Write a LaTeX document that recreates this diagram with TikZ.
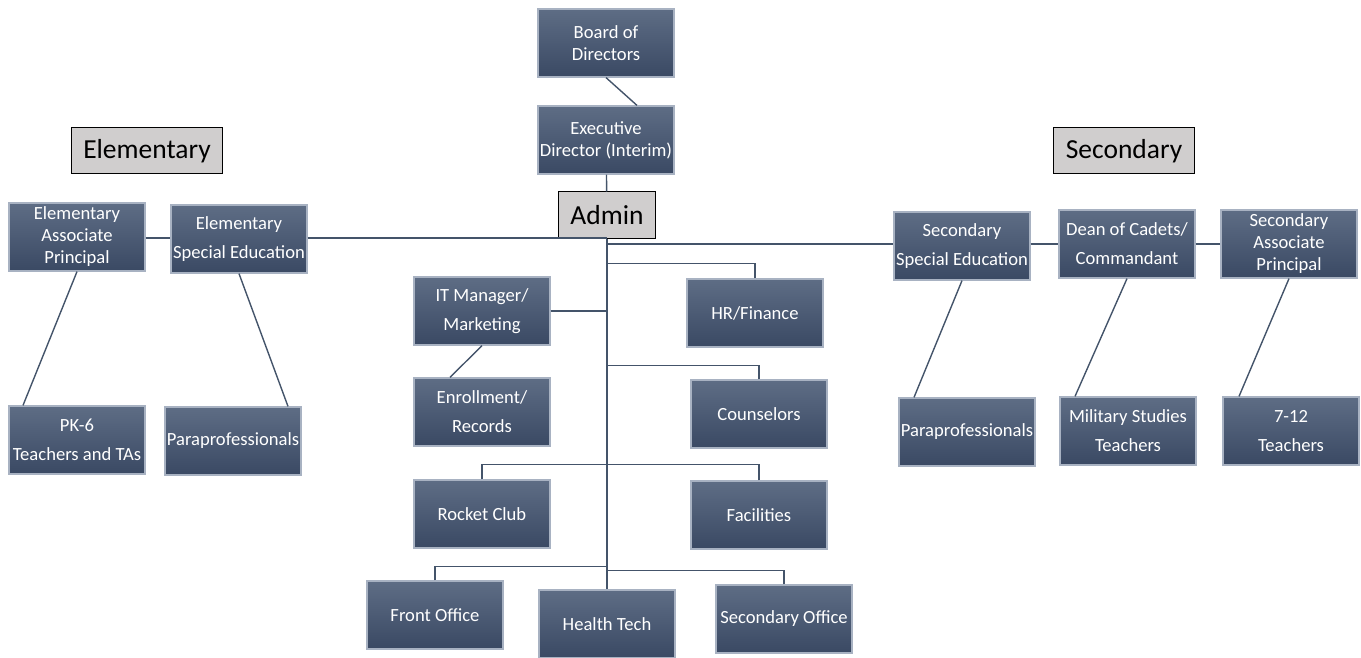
\documentclass[tikz,border=0pt]{standalone}
\usepackage{fontspec}
\setmainfont{Carlito}
\definecolor{boxtop}{RGB}{94,109,133}
\definecolor{boxbot}{RGB}{58,73,99}
\definecolor{boxedge}{RGB}{168,178,194}
\definecolor{wire}{RGB}{68,84,106}
\definecolor{tagfill}{RGB}{208,206,206}
\tikzstyle{unit}=[draw=boxedge, line width=1.2pt, top color=boxtop,
    bottom color=boxbot, text=white, minimum width=136pt,
    minimum height=68pt, inner sep=1pt, align=center,
    font=\fontsize{18.6}{22}\selectfont]
\tikzstyle{tag}=[draw=black, line width=1pt, fill=tagfill,
    minimum height=46pt, inner xsep=12pt,
    font=\fontsize{27.5}{32}\selectfont]
\tikzstyle{conn}=[draw=wire, line width=1.4pt]
\tikzstyle{trunk}=[draw=wire, line width=2.6pt]
\newcommand{\gap}{\\[7pt]}

\begin{document}
\begin{tikzpicture}[x=1pt, y=-1pt]
    \useasboundingbox (0,0) rectangle (1361,658);
    \node (admin) [tag] at (607,215) {Admin};
    \path (admin)+(-1,-172) node (board) [unit] {Board of\\Directors};
    \path (admin)+(-1,-75) node (exec) [unit] {Executive\\Director (Interim)};
    \path (admin)+(-460,-64) node (elemtag) [tag] {Elementary};
    \path (admin)+(517,-64) node (sectag) [tag] {Secondary};
    % elementary side
    \path (admin)+(-530,22) node (elemap) [unit] {Elementary\\Associate\\Principal};
    \path (admin)+(-368,24) node (elemsped) [unit] {Elementary\gap Special Education};
    \path (admin)+(-530,225) node (pk6) [unit] {PK-6\gap Teachers and TAs};
    \path (admin)+(-374,226) node (elempara) [unit] {Paraprofessionals};
    % secondary side
    \path (admin)+(355,31) node (secsped) [unit] {Secondary\gap Special Education};
    \path (admin)+(520,29) node (dean) [unit] {Dean of Cadets/\gap Commandant};
    \path (admin)+(682,29) node (secap) [unit] {Secondary\\Associate\\Principal};
    \path (admin)+(360,217) node (secpara) [unit] {Paraprofessionals};
    \path (admin)+(521,216) node (milit) [unit] {Military Studies\gap Teachers};
    \path (admin)+(684,216) node (teach) [unit] {7-12\gap Teachers};
    % admin staff
    \path (admin)+(-125,96) node (itm) [unit] {IT Manager/\gap Marketing};
    \path (admin)+(-125,197) node (enroll) [unit] {Enrollment/\gap Records};
    \path (admin)+(148,98) node (hr) [unit] {HR/Finance};
    \path (admin)+(152,199) node (couns) [unit] {Counselors};
    \path (admin)+(-125,299) node (rocket) [unit] {Rocket Club};
    \path (admin)+(152,300) node (facil) [unit] {Facilities};
    \path (admin)+(-172,400) node (front) [unit] {Front Office};
    \path (admin)+(0,409) node (health) [unit] {Health Tech};
    \path (admin)+(177,404) node (secoff) [unit] {Secondary Office};

    \draw [conn] (board.south) -- ([xshift=31pt]exec.north);
    \draw [conn] (exec) -- (admin);
    \draw [trunk] (elemsped.east |- 0,238) -- (admin.south |- 0,238);
    \draw [trunk] (admin.south |- 0,244) -- (secsped.west |- 0,244);
    \draw [conn] (admin.south) -- (health.north);
    \draw [conn] (elemap.east |- 0,238) -- (elemsped.west |- 0,238);
    \draw [conn] (secsped.east |- 0,244) -- (dean.west |- 0,244);
    \draw [conn] (dean.east |- 0,244) -- (secap.west |- 0,244);
    \draw [conn] (elemap.south) -- ([xshift=-54pt]pk6.north);
    \draw [conn] (elemsped.south) -- ([xshift=55pt]elempara.north);
    \draw [conn] (secsped.south) -- ([xshift=-53pt]secpara.north);
    \draw [conn] (dean.south) -- ([xshift=-53pt]milit.north);
    \draw [conn] (secap.south) -- ([xshift=-52pt]teach.north);
    \draw [conn] (itm.east) -- (itm.east -| admin.south);
    \draw [conn] (itm.south) -- ([xshift=-32pt]enroll.north);
    \draw [conn] (hr.north) -- ++(0,-15) coordinate (hrup) -- (hrup -| admin.south);
    \draw [conn] (couns.north) -- ++(0,-14) coordinate (coup) -- (coup -| admin.south);
    \draw [conn] (rocket.north) -- ++(0,-15) coordinate (roup) -- (roup -| admin.south);
    \draw [conn] (facil.north) -- ++(0,-16) coordinate (faup) -- (faup -| admin.south);
    \draw [conn] (front.north) -- ++(0,-14) coordinate (frup) -- (frup -| admin.south);
    \draw [conn] (secoff.north) -- ++(0,-14) coordinate (soup) -- (soup -| admin.south);
\end{tikzpicture}
\end{document}
